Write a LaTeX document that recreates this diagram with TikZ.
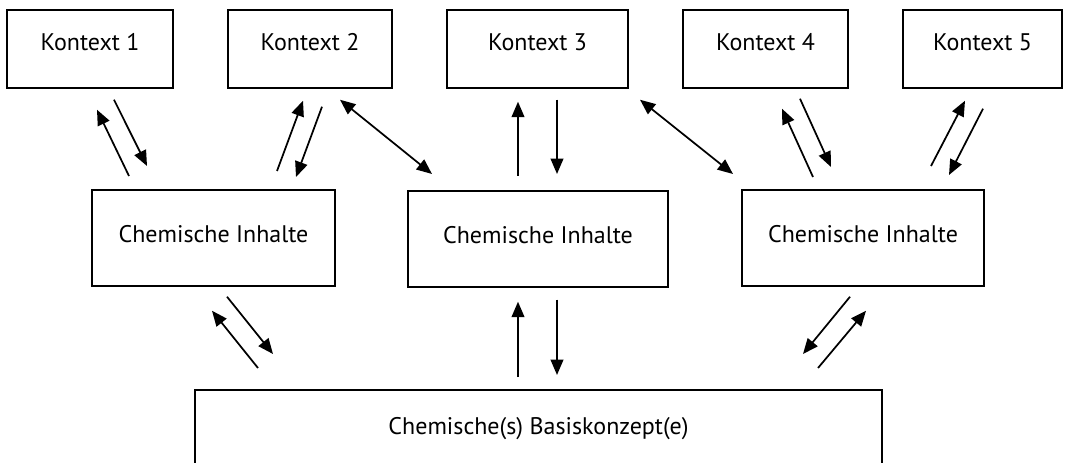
\documentclass[tikz,border=0pt]{standalone}
\usepackage{fontspec}
\setmainfont{PT Sans}
\usetikzlibrary{arrows.meta}
\tikzset{every picture/.style={line width=1.3pt}}
\tikzset{
  kontext/.style={draw, inner sep=0pt, anchor=north, text height=30.75pt, text depth=27.75pt, font=\fontsize{18}{21}\selectfont},
  inhalt/.style={draw, inner sep=0pt, anchor=north, text height=39.75pt, text depth=32.25pt, font=\fontsize{18}{21}\selectfont},
  basis/.style={draw, inner sep=0pt, anchor=north, text height=33.75pt, text depth=30pt, font=\fontsize{18}{21}\selectfont},
}

\begin{document}
\begin{tikzpicture}[x=0.75pt,y=0.75pt,yscale=-1,>={Triangle[length=11.5pt,width=9.5pt]}]
		\useasboundingbox (0,0) rectangle (1080,463);
		
		% Kontexte
		\node[kontext, minimum width=124.5pt] (k1) at (90,9) {Kontext 1};
		\node[kontext, minimum width=123pt] (k2) at (310,9) {Kontext 2};
		\node[kontext, minimum width=135.75pt] (k3) at (537.5,9) {Kontext 3};
		\node[kontext, minimum width=123.75pt] (k4) at (765.5,9) {Kontext 4};
		\node[kontext, minimum width=119.25pt] (k5) at (982.5,9) {Kontext 5};
		
		% Chemische Inhalte
		\node[inhalt, minimum width=182.25pt] (ci1) at (213.5,189) {Chemische Inhalte};
		\node[inhalt, minimum width=195pt] (ci2) at (538,190) {Chemische Inhalte};
		\node[inhalt, minimum width=181.5pt] (ci3) at (863,189) {Chemische Inhalte};
		
		% Basiskonzept
		\node[basis, minimum width=515.25pt] (bk) at (538.5,389) {Chemische(s) Basiskonzept(e)};
		
		% Kontext 1 <-> Inhalte 1
		\draw[->] ([shift={(-84.5,-13)}]ci1.north) -- ([shift={(7,21)}]k1.south);
		\draw[->] ([shift={(24,11)}]k1.south) -- ([shift={(-66.5,-23)}]ci1.north);
		% Kontext 2 <-> Inhalte 1
		\draw[->] ([shift={(63.5,-18)}]ci1.north) -- ([shift={(-7,12)}]k2.south);
		\draw[->] ([shift={(12,18)}]k2.south) -- ([shift={(82.5,-12)}]ci1.north);
		% Kontext 2 <-> Inhalte 2
		\draw[<->] ([shift={(30,11)}]k2.south) -- ([shift={(-106,-16)}]ci2.north);
		% Kontext 3 <-> Inhalte 2
		\draw[->] ([shift={(-20,-14)}]ci2.north) -- ([shift={(-19.5,13)}]k3.south);
		\draw[->] ([shift={(19.5,11)}]k3.south) -- ([shift={(19,-16)}]ci2.north);
		% Kontext 3 <-> Inhalte 3
		\draw[<->] ([shift={(102.5,11)}]k3.south) -- ([shift={(-130,-15)}]ci3.north);
		% Kontext 4 <-> Inhalte 3
		\draw[->] ([shift={(-50,-12)}]ci3.north) -- ([shift={(16.5,20)}]k4.south);
		\draw[->] ([shift={(34.5,10)}]k4.south) -- ([shift={(-32,-22)}]ci3.north);
		% Kontext 5 <-> Inhalte 3
		\draw[->] ([shift={(68,-23)}]ci3.north) -- ([shift={(-17.5,12)}]k5.south);
		\draw[->] ([shift={(0.5,20)}]k5.south) -- ([shift={(86,-14)}]ci3.north);
		
		% Inhalte <-> Basiskonzept
		\draw[->] ([shift={(13.5,10)}]ci1.south) -- ([shift={(-265.5,-35)}]bk.north);
		\draw[->] ([shift={(-280.5,-21)}]bk.north) -- ([shift={(-1.5,24)}]ci1.south);
		\draw[->] ([shift={(-20.5,-12)}]bk.north) -- ([shift={(-20,14)}]ci2.south);
		\draw[->] ([shift={(19,12)}]ci2.south) -- ([shift={(18.5,-14)}]bk.north);
		\draw[->] ([shift={(-13,10)}]ci3.south) -- ([shift={(264.5,-35)}]bk.north);
		\draw[->] ([shift={(279.5,-21)}]bk.north) -- ([shift={(3,24)}]ci3.south);
\end{tikzpicture}
\end{document}
